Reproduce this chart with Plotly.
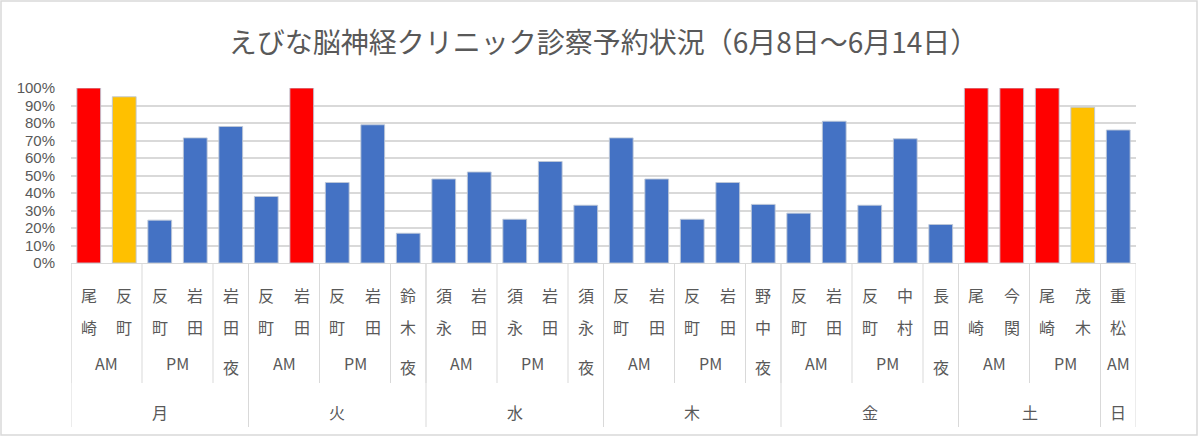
import plotly.graph_objects as go

# ---- data ----
days    = ["月"]*5 + ["火"]*5 + ["水"]*5 + ["木"]*5 + ["金"]*5 + ["土"]*4 + ["日"]
periods = (["AM", "AM", "PM", "PM", "夜"] * 5) + ["AM", "AM", "PM", "PM"] + ["AM"]
doctors = ["尾崎", "反町", "反町", "岩田", "岩田",
           "反町", "岩田", "反町", "岩田", "鈴木",
           "須永", "岩田", "須永", "岩田", "須永",
           "反町", "岩田", "反町", "岩田", "野中",
           "反町", "岩田", "反町", "中村", "長田",
           "尾崎", "今関", "尾崎", "茂木",
           "重松"]
rates = [100, 95, 24.5, 71.5, 78,
         38, 100, 46, 79, 17,
         48, 52, 25, 58, 33,
         71.5, 48, 25, 46, 33.5,
         28.5, 81, 33, 71, 22,
         100, 100, 100, 89,
         76]
y_ticks = [0, 10, 20, 30, 40, 50, 60, 70, 80, 90, 100]
title_text = "えびな脳神経クリニック診察予約状況（6月8日～6月14日）"

# ---- style ----
FONT = "Noto Sans CJK JP"
TICKFONT = "Liberation Sans"
GREY = "#595959"
LINE = "#D9D9D9"
W, H = 1199, 437
ML, MR, MT, MB = 71, 63, 88, 174
PH = H - MT - MB


def bar_color(v):
    if v >= 100:
        return "#FF0000"
    if v >= 85:
        return "#FFC000"
    return "#4472C4"


def py(pix):  # pixel row -> paper y
    return (H - MB - pix) / PH


def px(pix):  # pixel col -> paper x
    return (pix - ML) / (W - ML - MR)


n = len(rates)
xs = list(range(n))
fig = go.Figure()
fig.add_trace(go.Bar(
    x=xs, y=[v / 100 for v in rates], width=0.67,
    marker=dict(color=[bar_color(v) for v in rates],
                line=dict(color="rgba(190,200,215,0.9)", width=1)),
    hoverinfo="y",
))

shapes = []
annotations = []

# doctor name labels (vertical, one char per line)
for i, name in enumerate(doctors):
    for k, ch in enumerate(name):
        annotations.append(dict(x=i, xref="x", y=py(295 + 32 * k), yref="paper",
                                text=ch, showarrow=False, yanchor="middle",
                                font=dict(family=FONT, size=16, color=GREY)))


def groups(keys):
    out = []
    start = 0
    for i in range(1, len(keys) + 1):
        if i == len(keys) or keys[i] != keys[start]:
            out.append((start, i - 1, keys[start]))
            start = i
    return out


day_groups = groups(days)
period_keys = [d + p for d, p in zip(days, periods)]
period_groups = groups(period_keys)

for s, e, key in period_groups:
    label = periods[s]
    yy = 367 if label == "夜" else 363
    annotations.append(dict(x=(s + e) / 2, xref="x", y=py(yy), yref="paper",
                            text=label, showarrow=False, yanchor="middle",
                            font=dict(family=FONT, size=16, color=GREY)))
    shapes.append(dict(type="line", xref="x", yref="paper", x0=s - 0.5, x1=s - 0.5,
                       y0=0, y1=py(383), line=dict(color=LINE, width=1)))

for s, e, key in day_groups:
    annotations.append(dict(x=(s + e) / 2, xref="x", y=py(412), yref="paper",
                            text=key, showarrow=False, yanchor="middle",
                            font=dict(family=FONT, size=16, color=GREY)))
    shapes.append(dict(type="line", xref="x", yref="paper", x0=s - 0.5, x1=s - 0.5,
                       y0=0, y1=py(427), line=dict(color=LINE, width=1)))
shapes.append(dict(type="line", xref="x", yref="paper", x0=n - 0.5, x1=n - 0.5,
                   y0=0, y1=py(427), line=dict(color=LINE, width=1)))

# chart-area border
shapes.append(dict(type="rect", xref="paper", yref="paper",
                   x0=px(1), x1=px(1197), y0=py(435), y1=py(1),
                   line=dict(color="#D9D9D9", width=1.5), layer="below"))

fig.update_layout(
    width=W, height=H,
    margin=dict(l=ML, r=MR, t=MT, b=MB),
    paper_bgcolor="white", plot_bgcolor="white",
    title=dict(text=title_text, x=0.5, xanchor="center", y=1 - 43 / H,
               yanchor="middle", xref="paper",
               font=dict(family=FONT, size=28, color=GREY)),
    xaxis=dict(range=[-0.5, n - 0.5], showticklabels=False, showgrid=False,
               zeroline=False, showline=True, linecolor=LINE, linewidth=1,
               fixedrange=True),
    yaxis=dict(range=[0, 1.0], tickvals=[t / 100 for t in y_ticks],
               ticktext=[f"{t}%" for t in y_ticks],
               showgrid=True, gridcolor=LINE, gridwidth=1.5, zeroline=False,
               showline=False, ticks="", ticklabelstandoff=15,
               tickfont=dict(family=TICKFONT, size=15, color=GREY)),
    shapes=shapes, annotations=annotations, showlegend=False,
    bargap=0.3,
)
fig.write_html("out.html")
